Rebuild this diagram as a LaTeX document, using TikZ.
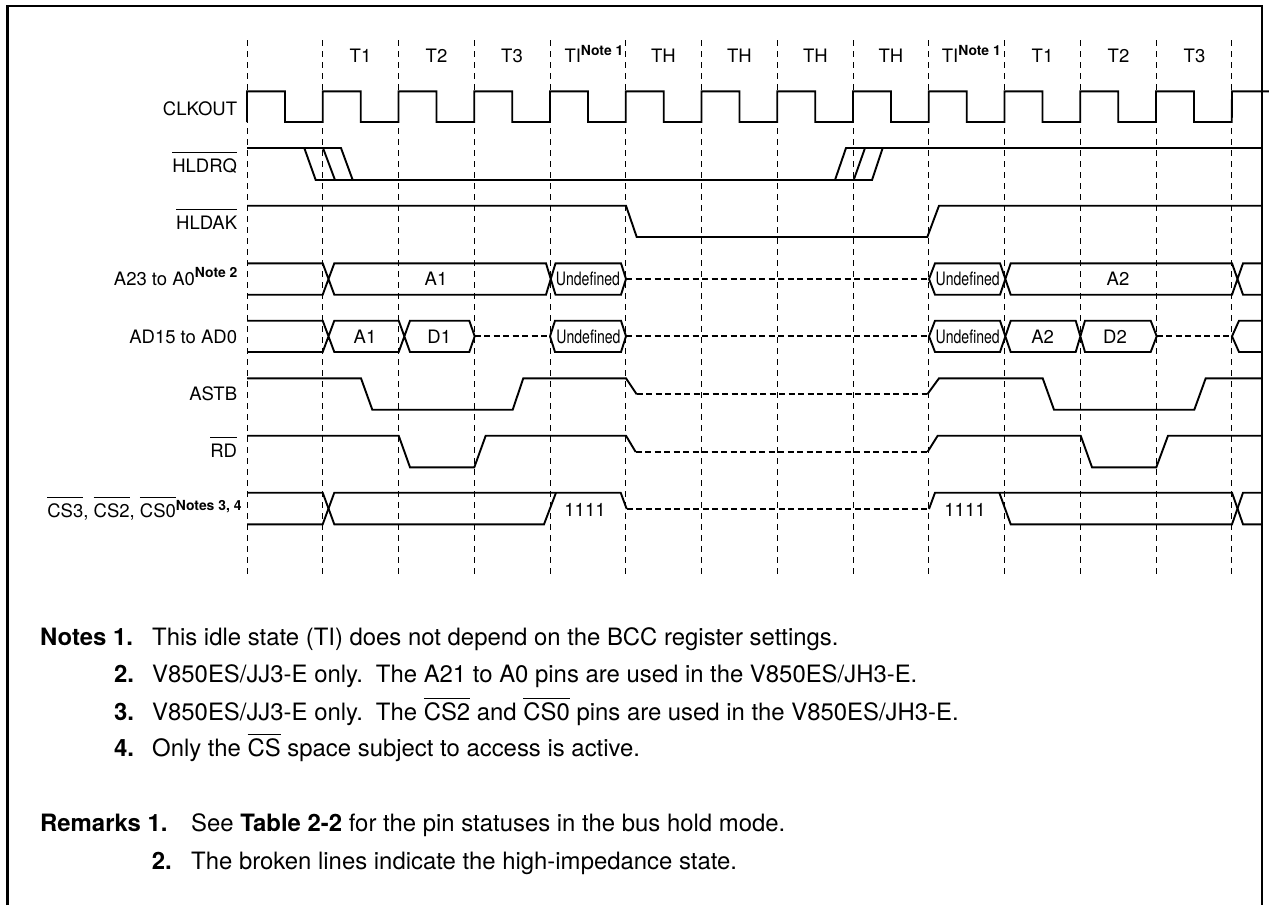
\documentclass[tikz,border=0pt]{standalone}
\usepackage{graphicx}
\usepackage{fontspec}
\setmainfont{TeX Gyre Heros}
\newcommand{\ovl}[1]{\begingroup\setbox0\hbox{#1}\rlap{\rule[19.6pt]{\wd0}{0.9pt}}\box0\endgroup}
\newcommand{\ovlb}[1]{\begingroup\setbox0\hbox{#1}\rlap{\rule[21.4pt]{\wd0}{0.9pt}}\box0\endgroup}
\newcommand{\nsup}[1]{\raisebox{7.5pt}{\fontsize{13.9pt}{15pt}\selectfont\bfseries #1}}
\newcommand{\undef}{\scalebox{0.76}[1]{Undefined}}
\tikzset{
  grid line/.style={line width=1pt,dash pattern=on 6pt off 5pt},
  sig/.style={line width=1.9pt,line join=miter},
  hiz/.style={line width=1.9pt,dash pattern=on 6pt off 3.5pt},
  lab/.style={anchor=base east,inner sep=0pt,font=\fontsize{18.5pt}{20pt}\selectfont},
  val/.style={anchor=base,inner sep=0pt,font=\fontsize{18.5pt}{20pt}\selectfont},
  tistate/.style={anchor=base west,inner sep=0pt,font=\fontsize{18.5pt}{20pt}\selectfont},
  note/.style={anchor=base west,inner sep=0pt,font=\fontsize{23.9pt}{26pt}\selectfont},
}
\begin{document}
\begin{tikzpicture}[x=1pt,y=-1pt]
\useasboundingbox (0,0) rectangle (1269,905);
% frame
\draw[line width=2.5pt] (7.3,905) -- (7.3,6) -- (1262,6) -- (1262,905);
% time grid
\foreach \i in {0,...,13}{
  \draw[grid line] ({247+75.75*\i},40) -- ({247+75.75*\i},575);
}
% state labels
\node[val] (t1a) at (360.5,62.7) {T1};
\node[val] (t2a) at (436.5,62.7) {T2};
\node[val] (t3a) at (512,62.7) {T3};
\node[tistate] (tia) at (564.3,62.7) {TI\nsup{Note 1}};
\node[val] (th1) at (663.5,62.7) {TH};
\node[val] (th2) at (739.5,62.7) {TH};
\node[val] (th3) at (815.5,62.7) {TH};
\node[val] (th4) at (891,62.7) {TH};
\node[tistate] (tib) at (941.7,62.7) {TI\nsup{Note 1}};
\node[val] (t1b) at (1042.5,62.7) {T1};
\node[val] (t2b) at (1118.5,62.7) {T2};
\node[val] (t3b) at (1194.5,62.7) {T3};
% signal labels
\node[lab] (lclk) at (237.3,115) {CLKOUT};
\node[lab] (lrq) at (237.3,172.3) {\ovl{HLDRQ}};
\node[lab] (lak) at (237.3,229) {\ovl{HLDAK}};
\node[lab] (la) at (237.6,285) {A23 to A0\nsup{Note 2}};
\node[lab] (lad) at (237.3,343.3) {AD15 to AD0};
\node[lab] (last) at (237.3,400) {ASTB};
\node[lab] (lrd) at (237.3,457) {\ovl{RD}};
\node[lab] (lcs) at (241.7,517.7) {\ovl{CS3}, \ovl{CS2}, \ovl{CS0}\nsup{Notes 3, 4}};
% CLKOUT
\draw[sig] (247,122)
  \foreach \i in {0,...,12}{ -- ({247+75.75*\i},91.3) -- ({285+75.75*\i},91.3) -- ({285+75.75*\i},122) -- ({322.75+75.75*\i},122) }
  -- (1232,91.3) -- (1269,91.3);
% HLDRQ
\draw[sig] (247,148) -- (341,148) -- (352.7,180) -- (872,180) -- (882.7,148);
\draw[sig] (304.3,148) -- (315.7,180) -- (352.7,180);
\draw[sig] (323,148) -- (335,180);
\draw[sig] (835,180) -- (846,148) -- (1262,148);
\draw[sig] (853.7,180) -- (865,148);
% HLDAK
\draw[sig] (247,205.7) -- (626,205.7) -- (636.7,237) -- (927.3,237) -- (939,205.7) -- (1262,205.7);
% A23 to A0
\draw[sig] (247,263.3) -- (322.7,263.3) -- (334.3,294.7) -- (546,294.7) -- (555.5,263.3) -- (621,263.3) -- (626,279) -- (621,294.7) -- (555.5,294.7) -- (546,263.3) -- (334.3,263.3) -- (322.7,294.7) -- (247,294.7);
\draw[hiz] (626,279) -- (929,279);
\draw[sig] (1262,263.3) -- (1243,263.3) -- (1232,294.7) -- (1010.7,294.7) -- (1000,263.3) -- (935,263.3) -- (929,279) -- (935,294.7) -- (1000,294.7) -- (1010.7,263.3) -- (1232,263.3) -- (1243,294.7) -- (1262,294.7);
\node[val] (va1) at (436,285) {A1};
\node[val] (vu1) at (588,285) {\undef};
\node[val] (vu2) at (967.7,285) {\undef};
\node[val] (va2) at (1118,285) {A2};
% AD15 to AD0
\draw[sig] (247,320.7) -- (322.7,320.7) -- (334.3,352) -- (398.7,352) -- (410,320.7) -- (469.3,320.7) -- (474.7,336.3) -- (469.3,352) -- (410,352) -- (398.7,320.7) -- (334.3,320.7) -- (322.7,352) -- (247,352);
\draw[hiz] (474.7,336.3) -- (550,336.3);
\draw[sig] (550,336.3) -- (555,320.7) -- (621,320.7) -- (626,336.3) -- (621,352) -- (555,352) -- cycle;
\draw[hiz] (626,336.3) -- (929,336.3);
\draw[sig] (929,336.3) -- (935,320.7) -- (1000,320.7) -- (1010.7,352) -- (1075.7,352) -- (1085,320.7) -- (1150.7,320.7) -- (1156.7,336.3) -- (1150.7,352) -- (1085,352) -- (1075.7,320.7) -- (1010.7,320.7) -- (1000,352) -- (935,352) -- cycle;
\draw[hiz] (1156.7,336.3) -- (1232,336.3);
\draw[sig] (1262,320.7) -- (1239,320.7) -- (1232,336.3) -- (1239,352) -- (1262,352);
\node[val] (vb1) at (365,343.3) {A1};
\node[val] (vd1) at (439.3,343.3) {D1};
\node[val] (vu3) at (588.5,343.3) {\undef};
\node[val] (vu4) at (967.7,343.3) {\undef};
\node[val] (vb2) at (1042.7,343.3) {A2};
\node[val] (vd2) at (1115,343.3) {D2};
% ASTB
\draw[sig] (247,378.3) -- (361,378.3) -- (372.3,409.7) -- (512.7,409.7) -- (523.3,378.3) -- (626,378.3) -- (636.7,394.3);
\draw[hiz] (636.7,394.3) -- (927.3,394.3);
\draw[sig] (927.3,394.3) -- (939,378.3) -- (1042.7,378.3) -- (1054,409.7) -- (1194.3,409.7) -- (1205.7,378.3) -- (1262,378.3);
% RD
\draw[sig] (247,435.7) -- (398.7,435.7) -- (410,467.3) -- (474.3,467.3) -- (485.7,435.7) -- (626,435.7) -- (635.7,452);
\draw[hiz] (635.7,452) -- (927.5,452);
\draw[sig] (927.5,452) -- (937.7,435.7) -- (1080.7,435.7) -- (1092,467.3) -- (1156.3,467.3) -- (1168,435.7) -- (1262,435.7);
% CS
\draw[sig] (247,492.7) -- (322.7,492.7) -- (334.3,524.3) -- (544,524.3) -- (556,492.7);
\draw[sig] (247,524.3) -- (322.7,524.3) -- (334.3,492.7) -- (620.7,492.7) -- (626.7,509);
\draw[hiz] (626.7,509) -- (929,509);
\draw[sig] (929,509) -- (935,492.7) -- (1232,492.7) -- (1243,524.3) -- (1262,524.3);
\draw[sig] (999.3,492.7) -- (1010.7,524.3) -- (1232,524.3) -- (1243,492.7) -- (1262,492.7);
\node[val] (v11) at (585,516) {1111};
\node[val] (v12) at (965,516) {1111};
% notes
\node[note] (n1h) at (40,645) {\bfseries Notes 1.};
\node[note] (n1) at (152,645) {This idle state (TI) does not depend on the BCC register settings.};
\node[note] (n2n) at (114,682.7) {\bfseries 2.};
\node[note] (n2) at (152,682.7) {V850ES/JJ3-E only.\hspace{13pt}The A21 to A0 pins are used in the V850ES/JH3-E.};
\node[note] (n3n) at (114,720) {\bfseries 3.};
\node[note] (n3) at (152,720) {V850ES/JJ3-E only.\hspace{13pt}The \ovlb{CS2} and \ovlb{CS0} pins are used in the V850ES/JH3-E.};
\node[note] (n4n) at (114,756.7) {\bfseries 4.};
\node[note] (n4) at (152,756.7) {Only the \ovlb{CS} space subject to access is active.};
\node[note] (r1h) at (40,831.7) {\bfseries Remarks 1.};
\node[note] (r1) at (191,831.7) {See \textbf{Table 2-2} for the pin statuses in the bus hold mode.};
\node[note] (r2n) at (151.7,869) {\bfseries 2.};
\node[note] (r2) at (191,869) {The broken lines indicate the high-impedance state.};
\end{tikzpicture}
\end{document}
